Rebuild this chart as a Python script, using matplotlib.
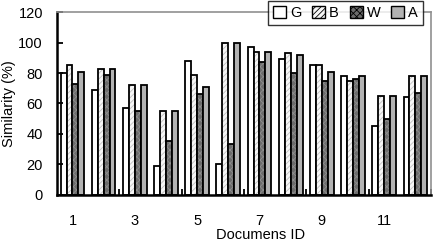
import numpy as np
import matplotlib.pyplot as plt
from matplotlib.patches import Patch

plt.rcParams['font.family'] = ['Liberation Sans', 'DejaVu Sans']
plt.rcParams['hatch.linewidth'] = 0.6

# documents 1..12, similarity (%) for each method
doc_ids = np.arange(1, 13)
series_names = ['G', 'B', 'W', 'A']
G = [80, 69, 57, 19, 88, 20, 97, 89, 85, 78, 45, 64]
B = [85, 83, 72, 55, 79, 100, 94, 93, 85, 75, 65, 78]
W = [73, 79, 55, 35, 66, 33, 87, 80, 75, 76, 50, 67]
A = [81, 83, 72, 55, 71, 100, 94, 92, 81, 78, 65, 78]
tick_labels = ['1', '3', '5', '7', '9', '11']

fig = plt.figure(figsize=(4.34, 2.42), dpi=100)
ax = fig.add_axes([0.131, 0.196, 0.862, 0.753])

# fill colour, hatch, hatch colour
styles = [('white', None, 'black'),
          ('#f6f6f6', '//////', '#c0c0c0'),
          ('#6c6c6c', 'xxxxx', '#8e8e8e'),
          ('#b3b3b3', None, 'black')]

w = 0.19
x = np.arange(len(doc_ids))
for i, vals in enumerate([G, B, W, A]):
    fc, hatch, hc = styles[i]
    pos = x + (i - 1.5) * w
    if hatch:
        ax.bar(pos, vals, w, color=fc, hatch=hatch, edgecolor=hc, linewidth=0)
    ax.bar(pos, vals, w, facecolor=fc if not hatch else 'none',
           edgecolor='black', linewidth=1.3, label=series_names[i])

# legend handles need the fill + hatch too
handles = []
for i, name in enumerate(series_names):
    fc, hatch, hc = styles[i]
    handles.append(Patch(facecolor=fc, edgecolor='black', hatch=hatch, linewidth=1, label=name))
leg = fig.legend(handles=handles, ncol=4, loc='center', bbox_to_anchor=(345.5 / 434, 1 - 13 / 242),
                 fontsize=10.5, handlelength=0.9, handleheight=0.9, handletextpad=0.25,
                 columnspacing=0.75, borderpad=0.35, frameon=True, fancybox=False)
leg.get_frame().set_edgecolor('black')
leg.get_frame().set_linewidth(1.0)

ax.set_xlim(-0.5, 11.5)
ax.set_ylim(0, 120)
ax.set_yticks(np.arange(0, 121, 20))
ax.tick_params(axis='y', direction='in', length=4, width=1.3, pad=10, labelsize=10.5)

# ticks at every second category boundary, labels on odd documents
ax.set_xticks(np.arange(1.5, 12, 2))
ax.set_xticklabels([])
ax.set_xticks(np.arange(0, 12, 2), minor=True)
ax.set_xticklabels(tick_labels, minor=True)
ax.tick_params(axis='x', which='major', direction='in', length=4, width=1.3)
ax.tick_params(axis='x', which='minor', length=0, pad=14, labelsize=10.5)

for s in ['left', 'bottom']:
    ax.spines[s].set_color('black')
    ax.spines[s].set_linewidth(1.8)
for s in ['top', 'right']:
    ax.spines[s].set_color('#909090')
    ax.spines[s].set_linewidth(1.2)

ax.set_ylabel('Similarity (%)', fontsize=10.5)
ax.yaxis.set_label_coords(-0.108, 0.5)
ax.set_xlabel('Documens ID', fontsize=10.5)
ax.xaxis.set_label_coords(0.545, -0.185)

fig.savefig('out.png', dpi=100)
